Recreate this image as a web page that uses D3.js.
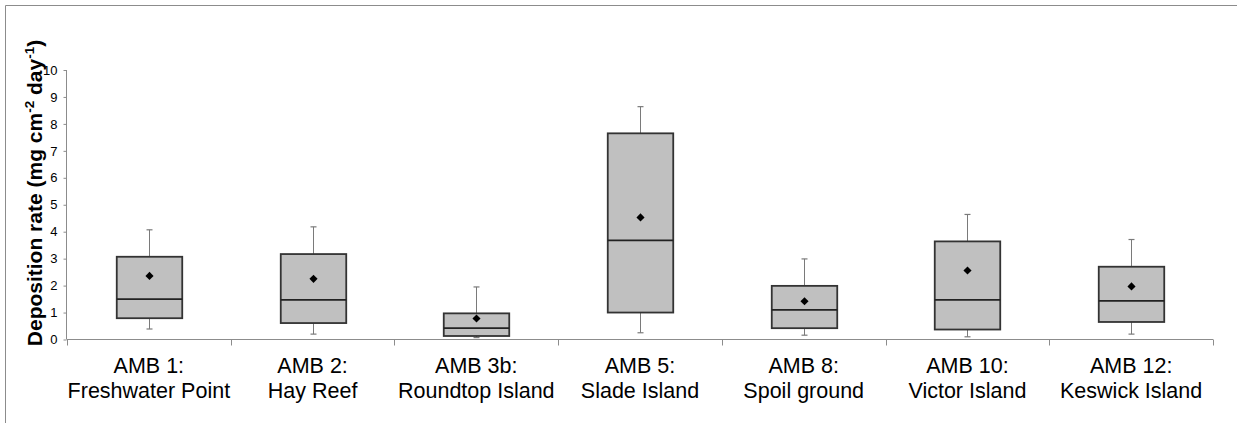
<!DOCTYPE html>
<html>
<head>
<meta charset="utf-8">
<script src="https://cdn.jsdelivr.net/npm/d3@7"></script>
<style>
  html, body { margin: 0; padding: 0; background: #fff; }
  svg { display: block; }
  text { font-family: "Liberation Sans", Arial, sans-serif; }
</style>
</head>
<body>
<svg id="chart" width="1237" height="427"></svg>
<script>
// Sites (two-line category labels)
const siteCodes = ["AMB 1:", "AMB 2:", "AMB 3b:", "AMB 5:", "AMB 8:", "AMB 10:", "AMB 12:"];
const siteNames = ["Freshwater Point", "Hay Reef", "Roundtop Island", "Slade Island", "Spoil ground", "Victor Island", "Keswick Island"];

// Deposition rate statistics (mg cm-2 day-1)
const whiskerLow  = [0.39, 0.20, 0.07, 0.25, 0.16, 0.10, 0.20];
const q1          = [0.79, 0.61, 0.13, 1.00, 0.42, 0.37, 0.65];
const median      = [1.50, 1.47, 0.42, 3.68, 1.10, 1.47, 1.43];
const q3          = [3.07, 3.17, 0.97, 7.65, 1.99, 3.64, 2.70];
const whiskerHigh = [4.07, 4.18, 1.95, 8.64, 2.99, 4.64, 3.71];
const mean        = [2.36, 2.25, 0.78, 4.53, 1.42, 2.56, 1.97];

const yTicks = [0, 1, 2, 3, 4, 5, 6, 7, 8, 9, 10];

const svg = d3.select("#chart");

// outer frame (top and left edges)
svg.append("path")
  .attr("d", "M5.5,423V5.5H1237")
  .attr("fill", "none")
  .attr("stroke", "#8c8c8c")
  .attr("stroke-width", 1);

const x = d3.scaleBand()
  .domain(siteCodes)
  .range([67, 1213])
  .paddingInner(0)
  .paddingOuter(0);

const y = d3.scaleLinear()
  .domain([0, 10])
  .range([339.5, 70]);

const axisGrey = "#8c8c8c";

// y axis
const yAxis = svg.append("g")
  .attr("transform", "translate(66.5,0)")
  .call(d3.axisLeft(y).tickValues(yTicks).tickSize(3).tickPadding(6).tickFormat(d3.format("d")));
yAxis.select(".domain").attr("stroke", axisGrey).attr("d", `M0,${y(10)}V${y(0)}`);
yAxis.selectAll(".tick line").attr("stroke", axisGrey);
yAxis.selectAll(".tick text").attr("font-size", 13).attr("fill", "#000")
  .attr("font-family", "'Liberation Sans', Arial, sans-serif");

// x axis with tick marks at category boundaries
const xAxisG = svg.append("g").attr("transform", `translate(0,${y(0)})`);
xAxisG.append("line")
  .attr("x1", x.range()[0]).attr("x2", x.range()[1])
  .attr("stroke", axisGrey).attr("stroke-width", 1);
const boundaries = siteCodes.map(d => x(d)).concat([x.range()[1]]);
xAxisG.selectAll("line.bound")
  .data(boundaries)
  .join("line")
  .attr("class", "bound")
  .attr("x1", d => Math.round(d) + 0.5).attr("x2", d => Math.round(d) + 0.5)
  .attr("y1", 0).attr("y2", 6)
  .attr("stroke", axisGrey);

// category labels
const labels = svg.append("g");
siteCodes.forEach((code, i) => {
  const cx = x(code) + x.bandwidth() / 2;
  const t = labels.append("text")
    .attr("text-anchor", "middle")
    .attr("font-size", 21.5)
    .attr("fill", "#000");
  t.append("tspan").attr("x", cx).attr("y", 373).text(code);
  t.append("tspan").attr("x", cx).attr("y", 398).text(siteNames[i]);
});

// y axis title
const title = svg.append("text")
  .attr("transform", "translate(42,193) rotate(-90)")
  .attr("text-anchor", "middle")
  .attr("font-size", 21)
  .attr("font-weight", "bold")
  .attr("fill", "#000");
title.append("tspan").text("Deposition rate (mg cm");
title.append("tspan").attr("font-size", 13.5).attr("dy", -8).text("-2");
title.append("tspan").attr("dy", 8).text(" day");
title.append("tspan").attr("font-size", 13.5).attr("dy", -8).text("-1");
title.append("tspan").attr("dy", 8).text(")");

// boxes
const boxW = x.bandwidth() * 0.4;
const capW = 6;
const boxes = svg.append("g");
siteCodes.forEach((code, i) => {
  const cx = Math.round(x(code) + x.bandwidth() / 2) + 0.5;
  const g = boxes.append("g");
  // whiskers
  g.append("line").attr("x1", cx).attr("x2", cx).attr("y1", y(q3[i])).attr("y2", y(whiskerHigh[i]))
    .attr("stroke", "#7a7a7a").attr("stroke-width", 1);
  g.append("line").attr("x1", cx).attr("x2", cx).attr("y1", y(q1[i])).attr("y2", y(whiskerLow[i]))
    .attr("stroke", "#7a7a7a").attr("stroke-width", 1);
  g.append("line").attr("x1", cx - capW / 2).attr("x2", cx + capW / 2)
    .attr("y1", y(whiskerHigh[i])).attr("y2", y(whiskerHigh[i]))
    .attr("stroke", "#7a7a7a").attr("stroke-width", 1.2);
  g.append("line").attr("x1", cx - capW / 2).attr("x2", cx + capW / 2)
    .attr("y1", y(whiskerLow[i])).attr("y2", y(whiskerLow[i]))
    .attr("stroke", "#7a7a7a").attr("stroke-width", 1.2);
  // interquartile box
  g.append("rect")
    .attr("x", cx - boxW / 2).attr("width", boxW)
    .attr("y", y(q3[i])).attr("height", y(q1[i]) - y(q3[i]))
    .attr("fill", "#c0c0c0").attr("stroke", "#333").attr("stroke-width", 1.8);
  // median
  g.append("line")
    .attr("x1", cx - boxW / 2).attr("x2", cx + boxW / 2)
    .attr("y1", y(median[i])).attr("y2", y(median[i]))
    .attr("stroke", "#222").attr("stroke-width", 1.8);
  // mean marker (diamond)
  g.append("path")
    .attr("d", d3.symbol(d3.symbolDiamond2, 42)())
    .attr("transform", `translate(${cx},${y(mean[i])})`)
    .attr("fill", "#000");
});
</script>
</body>
</html>
